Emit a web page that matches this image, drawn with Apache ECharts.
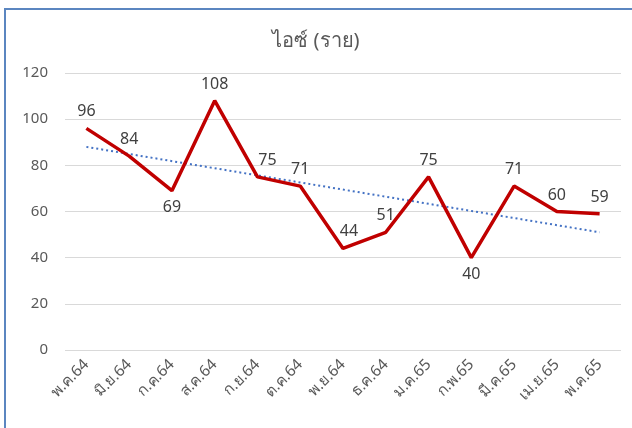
<!doctype html>
<html lang="th">
<head>
<meta charset="utf-8" />
<title>ไอซ์ (ราย)</title>
<script src="https://cdn.jsdelivr.net/npm/echarts@6/dist/echarts.min.js"></script>
<style type="text/css">
    html, body { margin: 0; padding: 0; background: #fff; }
    #frame {
        position: absolute; left: 4px; top: 8px;
        width: 628px; height: 420px;
        border-left: 2px solid #5b86c0;
        border-top: 2px solid #5b86c0;
    }
    #chart { position: absolute; left: 0; top: 0; width: 632px; height: 428px; }
</style>
</head>
<body>
<div id="frame"></div>
<div id="chart"></div>
<script>
    var months = ['พ.ค.64', 'มิ.ย.64', 'ก.ค.64', 'ส.ค.64', 'ก.ย.64', 'ต.ค.64', 'พ.ย.64',
                  'ธ.ค.64', 'ม.ค.65', 'ก.พ.65', 'มี.ค.65', 'เม.ย.65', 'พ.ค.65'];
    var cases = [96, 84, 69, 108, 75, 71, 44, 51, 75, 40, 71, 60, 59];
    // linear trend at first and last month
    var trendEnds = [88, 51];
    // labels drawn under the point instead of over it
    var labelsBelow = [2, 9];

    var fontList = 'Tahoma, "Noto Sans", "DejaVu Sans", sans-serif';

    var caseData = [];
    for (let i = 0; i < cases.length; i++) {
        let lbl = { position: labelsBelow.indexOf(i) >= 0 ? 'bottom' : 'top' };
        if (i == 4) lbl.offset = [10, 0];   // sits to the right of the point
        if (i == 6) lbl.offset = [6, 0];
        caseData.push({ value: cases[i], label: lbl });
    }

    var option = {
        animation: false,
        title: {
            text: 'ไอซ์ (ราย)',
            left: 'center',
            top: 26,
            textStyle: { fontFamily: fontList, fontSize: 20, fontWeight: 'normal', color: '#595959' }
        },
        grid: { left: 65, right: 11, top: 73, bottom: 78 },
        xAxis: {
            type: 'category',
            data: months,
            boundaryGap: true,
            axisLine: { show: false },
            axisTick: { show: false },
            axisLabel: { rotate: 45, interval: 0, margin: 12, fontFamily: fontList, fontSize: 15.5, color: '#595959' }
        },
        yAxis: {
            type: 'value',
            min: 0,
            max: 120,
            interval: 20,
            axisLabel: { margin: 17, fontFamily: fontList, fontSize: 15, color: '#595959' },
            splitLine: { lineStyle: { color: '#d9d9d9', width: 1 } }
        },
        series: [{
            type: 'line',
            data: caseData,
            symbol: 'circle',
            symbolSize: 1,
            showSymbol: true,
            lineStyle: { color: '#c00000', width: 3.5 },
            itemStyle: { color: 'rgba(0,0,0,0)' },
            label: { show: true, distance: 8, fontFamily: fontList, fontSize: 16, color: '#404040' },
            z: 3
        }, {
            type: 'line',
            data: [[0, trendEnds[0]], [months.length - 1, trendEnds[1]]],
            symbol: 'none',
            lineStyle: { color: '#4472c4', width: 2, type: [2, 3] },
            z: 2
        }]
    };

    var chart = echarts.init(document.getElementById('chart'));
    chart.setOption(option);
</script>
</body>
</html>
